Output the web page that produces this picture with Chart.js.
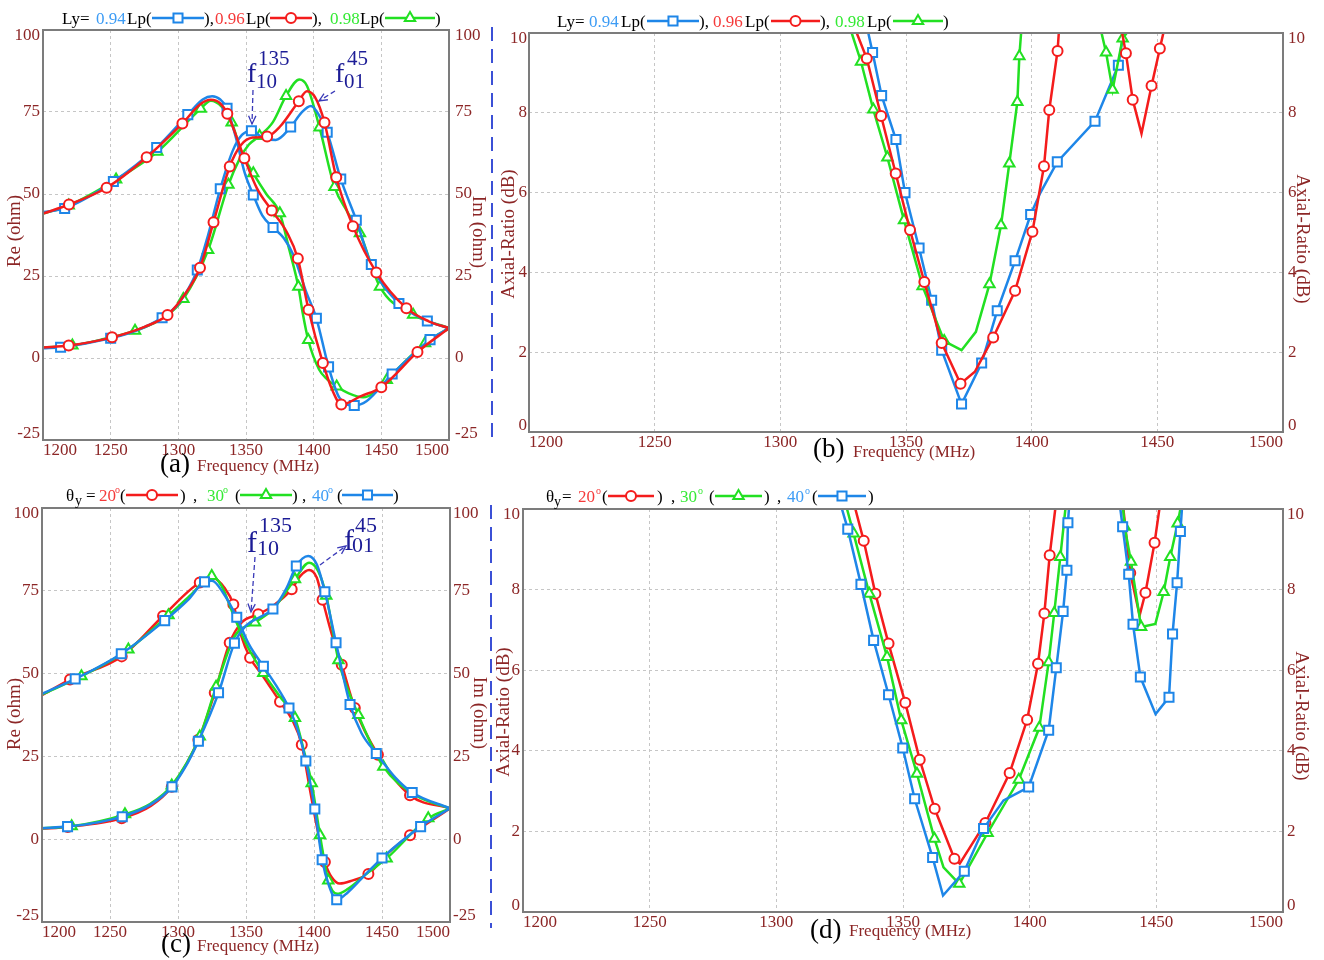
<!DOCTYPE html>
<html><head><meta charset="utf-8">
<script src="https://cdn.jsdelivr.net/npm/chart.js@4.4.0/dist/chart.umd.min.js"></script>
<style>
html,body{margin:0;padding:0;background:#fff;}
#wrap{position:relative;width:1324px;height:960px;overflow:hidden;background:#fff;}
canvas,svg{position:absolute;left:0;top:0;}
</style></head><body>
<div id="wrap">
<canvas id="cA" width="1324" height="960"></canvas>
<canvas id="cB" width="1324" height="960"></canvas>
<canvas id="cC" width="1324" height="960"></canvas>
<canvas id="cD" width="1324" height="960"></canvas>
<svg width="1324" height="960">
<line x1="492" y1="27" x2="492" y2="444" stroke="#3b50d6" stroke-width="2" stroke-dasharray="14 8"/>
<line x1="491" y1="505" x2="491" y2="928" stroke="#3b50d6" stroke-width="2" stroke-dasharray="14 8"/>
</svg>
</div>
<script>
// ---------- axis ranges / ticks ----------
const FREQ_MIN = 1200, FREQ_MAX = 1500, FREQ_STEP = 50;
const Z_MIN = -25, Z_MAX = 100, Z_STEP = 25;
const AR_MIN = 0, AR_MAX = 10, AR_STEP = 2;

// ---------- panel (a): Ly = 0.94/0.96/0.98 Lp, Re and Im (ohm) ----------
const A_RE_094 = [[1200,3.0],[1213,3.3],[1250,6.0],[1270,8.5],[1288,12.3],[1300,16.5],[1314,26.8],[1322,37.5],[1331,51.6],[1340,63.0],[1347,68.0],[1354,69.3],[1362,67.3],[1372,66.5],[1383,70.4],[1391,74.8],[1398,76.8],[1404,74.0],[1410,68.8],[1420,54.6],[1431.5,42.0],[1442.6,28.5],[1463,16.6],[1484,11.3],[1500,9.1]];
const A_RE_094_MK = [1213,1250,1288,1314,1331,1354,1383,1410,1420,1431.5,1442.6,1463,1484];
const A_IM_094 = [[1200,44.5],[1216,45.6],[1252,53.8],[1284,64.2],[1307,74.2],[1318,78.8],[1325,79.8],[1331,78.8],[1336,76.1],[1343,66.5],[1349,56.5],[1355.4,49.7],[1362,43.5],[1370,39.8],[1378,36.5],[1385,31.4],[1394.4,20.2],[1402,12.1],[1411,-2.7],[1419,-12.1],[1430,-14.5],[1439,-13.2],[1458,-4.9],[1486,5.6],[1500,9.1]];
const A_IM_094_MK = [1216,1252,1284,1307,1336,1355.4,1370,1402,1411,1430,1458,1486];

const A_RE_096 = [[1200,3.2],[1219,3.8],[1251,6.3],[1275,9.5],[1292,13.1],[1305,19.5],[1316,27.5],[1326,41.4],[1338,58.4],[1346,64.8],[1355,67.2],[1365.6,67.5],[1375,70.5],[1389,78.3],[1395,81.3],[1401,79.5],[1408,71.8],[1416.7,55.1],[1429,40.2],[1446.3,26.1],[1468.5,15.2],[1485,11.2],[1500,9.1]];
const A_RE_096_MK = [1219,1251,1292,1316,1326,1338,1365.6,1389,1408,1416.7,1429,1446.3,1468.5];
const A_IM_096 = [[1200,44.0],[1219.2,46.8],[1247,51.9],[1276.6,61.2],[1303,71.5],[1316,77.3],[1324,78.7],[1331,77.6],[1336.2,74.5],[1348.8,60.9],[1358,51.8],[1369,45.0],[1380,38.5],[1388.3,30.3],[1396.2,14.7],[1406.8,-1.5],[1414,-10.0],[1420.4,-14.2],[1435,-11.6],[1450,-8.9],[1476.7,1.8],[1500,9.1]];
const A_IM_096_MK = [1219.2,1247,1276.6,1303,1336.2,1348.8,1369,1388.3,1396.2,1406.8,1420.4,1450,1476.7];

const A_RE_098 = [[1200,3.2],[1221.7,3.8],[1245,5.8],[1268,8.3],[1290,12.5],[1303.7,18.0],[1322,32.9],[1337,52.8],[1345,60.5],[1352,65.0],[1360,67.7],[1370,72.0],[1379.6,79.9],[1389.5,84.9],[1395,83.0],[1404.3,70.3],[1415.4,52.1],[1425,44.5],[1434.2,38.0],[1449,21.7],[1473.5,13.2],[1500,9.1]];
const A_RE_098_MK = [1221.7,1268,1303.7,1322,1337,1360,1379.6,1404.3,1415.4,1434.2,1449,1473.5];
const A_IM_098 = [[1200,44.0],[1219,46.5],[1254,54.4],[1284.5,62.9],[1316.5,76.0],[1324,78.4],[1332,76.6],[1339.4,71.8],[1347,62.5],[1355.4,56.3],[1365,50.0],[1375,44.1],[1382,33.0],[1388.7,21.7],[1392,13.5],[1396,5.5],[1404,-3.5],[1410,-6.5],[1417,-8.7],[1426,-10.8],[1436.5,-12.0],[1445,-10.5],[1454,-6.7],[1482.3,4.5],[1500,9.1]];
const A_IM_098_MK = [1219,1254,1284.5,1316.5,1339.4,1355.4,1375,1388.7,1396,1417,1454,1482.3];

// ---------- panel (b): axial ratio (dB) ----------
const B_094 = [[1335,10],[1336.7,9.51],[1340.3,8.43],[1346,7.33],[1349.6,6.0],[1355.2,4.61],[1360.2,3.30],[1364.2,2.05],[1372.1,0.70],[1380.1,1.73],[1386.3,3.04],[1393.4,4.29],[1399.6,5.45],[1403.5,6.0],[1410.2,6.77],[1425.2,7.79],[1434.5,9.19],[1436.5,10]];
const B_094_MK = [1336.7,1340.3,1346,1349.6,1355.2,1360.2,1364.2,1372.1,1380.1,1386.3,1393.4,1399.6,1410.2,1425.2,1434.5];
const B_096 = [[1330.4,10],[1334.4,9.36],[1340.1,7.92],[1345.9,6.48],[1351.6,5.06],[1357.3,3.76],[1364.2,2.23],[1371.7,1.21],[1377.4,1.51],[1384.7,2.37],[1393.4,3.54],[1400.3,5.02],[1404.9,6.66],[1407,8.07],[1410.3,9.55],[1410.8,10],[1420,null],[1436,10],[1437.5,9.49],[1440.2,8.33],[1443.7,7.48],[1447.7,8.68],[1451,9.61],[1452.4,10]];
const B_096_MK = [1334.4,1340.1,1345.9,1351.6,1357.3,1364.2,1371.7,1384.7,1393.4,1400.3,1404.9,1407,1410.3,1437.5,1440.2,1447.7,1451];
const B_098 = [[1328.4,10],[1332.1,9.28],[1337,8.08],[1342.6,6.88],[1349.2,5.31],[1356.6,3.65],[1365.2,2.28],[1372.1,2.05],[1377.8,2.51],[1383.2,3.70],[1387.8,5.18],[1391.1,6.73],[1394.3,8.27],[1395.1,9.42],[1395.8,10],[1410,null],[1427.8,10],[1429.6,9.51],[1432.2,8.58],[1436.2,9.86],[1437.8,10]];
const B_098_MK = [1332.1,1337,1342.6,1349.2,1356.6,1365.2,1383.2,1387.8,1391.1,1394.3,1395.1,1429.6,1432.2,1436.2];

// ---------- panel (c): theta_y = 20/30/40 deg, Re and Im (ohm) ----------
const C_RE_20 = [[1200,3.2],[1219,3.7],[1258.6,6.3],[1280,10.0],[1295.4,15.8],[1315,30.0],[1327,44.2],[1338,59.3],[1347,65.5],[1359,67.9],[1370,70.5],[1383.6,75.5],[1390,79.5],[1396.4,81.3],[1402,79.0],[1406.3,72.3],[1413,62.0],[1420.4,52.7],[1430,39.6],[1447,25.5],[1470.6,13.3],[1500,9.3]];
const C_RE_20_MK = [1219,1258.6,1295.4,1315,1327,1338,1359,1383.6,1406.3,1420.4,1430,1447,1470.6];
const C_IM_20 = [[1200,43.5],[1220.6,48.2],[1258.6,55.2],[1289,67.4],[1316,77.5],[1326,78.8],[1334,76.0],[1340.7,70.9],[1346,62.0],[1353,54.8],[1362,49.5],[1375,41.5],[1384,36.0],[1391,28.5],[1397,15.0],[1403,2.0],[1408,-6.9],[1413,-11.5],[1419,-13.4],[1428,-12.5],[1440,-10.5],[1455,-4.0],[1470.6,1.2],[1500,9.3]];
const C_IM_20_MK = [1220.6,1258.6,1289,1316,1340.7,1353,1375,1391,1408,1440,1470.6];

const C_RE_30 = [[1200,3.3],[1221.8,3.9],[1261,7.5],[1280,10.8],[1295.4,16.2],[1316,31.0],[1328,46.0],[1342,61.5],[1356.6,65.4],[1370,69.5],[1386,78.5],[1396.4,83.5],[1403,81.0],[1409,73.5],[1418,54.0],[1432.6,37.5],[1451,21.9],[1475,13.2],[1500,9.3]];
const C_RE_30_MK = [1221.8,1261,1295.4,1316,1328,1356.6,1386,1409,1418,1432.6,1451];
const C_IM_30 = [[1200,43.7],[1229,49.2],[1263.5,57.3],[1293,67.6],[1310,74.0],[1324.8,79.5],[1332,76.5],[1342,66.4],[1352,57.5],[1362.7,50.2],[1375,43.0],[1386,36.6],[1393,26.0],[1398.3,16.9],[1404.4,1.2],[1410.5,-12.5],[1417,-16.5],[1425,-15.0],[1440,-10.0],[1453.4,-5.8],[1484,6.3],[1500,9.3]];
const C_IM_30_MK = [1229,1263.5,1293,1324.8,1362.7,1386,1398.3,1404.4,1410.5,1453.4,1484];

const C_RE_40 = [[1200,3.3],[1218.8,3.8],[1240,5.0],[1259,6.8],[1280,10.5],[1295.6,15.8],[1305,21.5],[1315,29.6],[1329.8,44.2],[1341.5,59.2],[1350,64.5],[1360,67.0],[1369.8,69.5],[1380,76.0],[1387,82.5],[1395.7,85.5],[1402,83.0],[1408,74.7],[1416.2,59.3],[1426.5,40.7],[1435,32.0],[1445.8,25.9],[1460,18.5],[1472.2,14.1],[1500,9.3]];
const C_RE_40_MK = [1218.8,1259,1295.6,1315,1329.8,1341.5,1369.8,1387,1408,1416.2,1426.5,1445.8,1472.2];
const C_IM_40 = [[1200,43.9],[1224.4,48.4],[1258.3,56.0],[1290.2,66.0],[1308,72.5],[1319.5,77.7],[1325,78.0],[1333,74.5],[1343.2,67.0],[1352,59.0],[1362.8,52.2],[1372,46.5],[1381.6,39.6],[1388,33.0],[1394,23.6],[1400.6,9.1],[1406,-6.2],[1411,-14.0],[1416.7,-18.3],[1425,-16.0],[1437,-11.0],[1450,-5.7],[1478.4,3.8],[1500,9.3]];
const C_IM_40_MK = [1224.4,1258.3,1290.2,1319.5,1343.2,1362.8,1381.6,1394,1400.6,1406,1416.7,1450,1478.4];

// ---------- panel (d): axial ratio (dB) ----------
const D_20 = [[1331.2,10],[1334.5,9.21],[1339.1,7.90],[1344.3,6.66],[1350.9,5.19],[1356.6,3.78],[1362.5,2.56],[1370.3,1.32],[1372.4,1.2],[1382.5,2.21],[1392.1,3.45],[1399,4.77],[1403.3,6.16],[1405.8,7.41],[1407.9,8.85],[1410.1,10],[1425,null],[1437,10],[1439.7,8.41],[1443.4,7.36],[1445.7,7.92],[1449.3,9.16],[1451.2,10]];
const D_20_MK = [1334.5,1339.1,1344.3,1350.9,1356.6,1362.5,1370.3,1382.5,1392.1,1399,1403.3,1405.8,1407.9,1439.7,1445.7,1449.3];
const D_30 = [[1327.9,10],[1330.5,9.39],[1336.7,7.90],[1343.7,6.33],[1349.3,4.76],[1355.5,3.43],[1362.4,1.82],[1366,1.11],[1372.2,0.70],[1383.4,1.96],[1395.7,3.28],[1403.8,4.57],[1407.5,6.2],[1409.7,7.42],[1412.1,8.81],[1414.1,10],[1425,null],[1436.9,10],[1437.5,9.56],[1440,8.69],[1444,7.07],[1449.6,7.15],[1452.9,7.94],[1455.5,8.81],[1458.4,9.64],[1459.5,10]];
const D_30_MK = [1330.5,1336.7,1343.7,1349.3,1355.5,1362.4,1372.2,1383.4,1395.7,1403.8,1407.5,1409.7,1412.1,1437.5,1440,1444,1452.9,1455.5,1458.4];
const D_40 = [[1325.9,10],[1328.2,9.50],[1333.4,8.13],[1338.4,6.74],[1344.3,5.39],[1349.9,4.07],[1354.6,2.81],[1361.7,1.35],[1365.8,0.41],[1374.2,1.01],[1381.8,2.07],[1389.7,2.77],[1399.6,3.10],[1407.5,4.51],[1410.5,6.06],[1413.2,7.46],[1414.7,8.48],[1415.1,9.66],[1415.5,10],[1425,null],[1435.8,10],[1436.7,9.56],[1439.1,8.38],[1440.8,7.14],[1443.7,5.83],[1449.7,4.91],[1455,5.33],[1456.4,6.90],[1458.2,8.17],[1459.5,9.44],[1460.1,10]];
const D_40_MK = [1328.2,1333.4,1338.4,1344.3,1349.9,1354.6,1361.7,1374.2,1381.8,1399.6,1407.5,1410.5,1413.2,1414.7,1415.1,1436.7,1439.1,1440.8,1443.7,1455,1456.4,1458.2,1459.5];

// ---------- styles ----------
const SERIF = '"Liberation Serif","Times New Roman","DejaVu Serif",serif';
const AX = '#8c2626';
const BLUE = '#1e86e8', RED = '#f41c1c', GREEN = '#22e022';
const LB_BLUE = '#3d9cf5', LB_RED = '#f53a3a', LB_GREEN = '#35ea35';
const NAVY = '#1c1c96', ARROW = '#3a3ab8';
const RAD = {rect: 6.4, circle: 5, triangle: 6};

function series(data, marks, color, style, smooth){
  return {
    data: data.map(p => ({x: p[0], y: p[1]})),
    borderColor: color, borderWidth: 2.5, backgroundColor: '#fff',
    pointStyle: style,
    pointRadius: c => (c.raw && marks.indexOf(c.raw.x) >= 0) ? RAD[style] : 0,
    pointHoverRadius: 0, pointHitRadius: 0,
    pointBackgroundColor: '#fff', pointBorderColor: color, pointBorderWidth: 2,
    cubicInterpolationMode: smooth ? 'monotone' : 'default', tension: 0,
    spanGaps: false, fill: false, yAxisID: 'y'
  };
}

function buildScales(ymin, ymax, ystep){
  const grid = {color: '#c6c6c6', lineWidth: 1, drawTicks: false};
  return {
    x: {type: 'linear', min: FREQ_MIN, max: FREQ_MAX,
        ticks: {stepSize: FREQ_STEP, align: 'inner', autoSkip: false, maxRotation: 0, minRotation: 0,
                color: AX, font: {family: SERIF, size: 17}, padding: 0, callback: v => String(v)},
        grid: grid, border: {display: false, dash: [3, 3]},
        afterFit: s => { s.height = 25; }},
    y: {type: 'linear', position: 'left', min: ymin, max: ymax,
        ticks: {stepSize: ystep, display: false},
        grid: grid, border: {display: false, dash: [3, 3]},
        afterFit: s => { s.width = 5; }},
    y2: {type: 'linear', position: 'right', min: ymin, max: ymax,
        ticks: {stepSize: ystep, display: false},
        grid: {display: false, drawTicks: false}, border: {display: false},
        afterFit: s => { s.width = 5; }}
  };
}

// ---------- drawing helpers ----------
function drawMark(ctx, style, x, y, color){
  ctx.save();
  ctx.beginPath(); ctx.lineWidth = 2; ctx.strokeStyle = color; ctx.fillStyle = '#fff';
  if (style === 'rect') { const h = RAD.rect * Math.SQRT1_2; ctx.rect(x - h, y - h, 2*h, 2*h); }
  else if (style === 'circle') { ctx.arc(x, y, RAD.circle, 0, Math.PI*2); }
  else { const r = RAD.triangle; ctx.moveTo(x, y - r); ctx.lineTo(x + r*0.866, y + r*0.5); ctx.lineTo(x - r*0.866, y + r*0.5); ctx.closePath(); }
  ctx.fill(); ctx.stroke(); ctx.restore();
}
function legendSym(ctx, x, y, w, style, color){
  ctx.save(); ctx.strokeStyle = color; ctx.lineWidth = 2.5;
  ctx.beginPath(); ctx.moveTo(x, y); ctx.lineTo(x + w, y); ctx.stroke(); ctx.restore();
  drawMark(ctx, style, x + w/2, y, color);
}
function rich(ctx, items){
  ctx.save(); ctx.textBaseline = 'alphabetic'; ctx.textAlign = 'left';
  items.forEach(it => {
    if (it.sym) { legendSym(ctx, it.x, it.y, it.w, it.sym, it.c); return; }
    ctx.font = (it.s || 17) + 'px ' + SERIF; ctx.fillStyle = it.c || '#000';
    ctx.fillText(it.t, it.x, it.y);
  });
  ctx.restore();
}
function rotText(ctx, text, x, y, rot, size, color){
  ctx.save(); ctx.translate(x, y); ctx.rotate(rot);
  ctx.font = size + 'px ' + SERIF; ctx.fillStyle = color;
  ctx.textAlign = 'center'; ctx.textBaseline = 'middle'; ctx.fillText(text, 0, 0); ctx.restore();
}
function arrow(ctx, x1, y1, x2, y2){
  ctx.save(); ctx.strokeStyle = ARROW; ctx.lineWidth = 1.3; ctx.setLineDash([5, 3]);
  ctx.beginPath(); ctx.moveTo(x1, y1); ctx.lineTo(x2, y2); ctx.stroke();
  ctx.setLineDash([]);
  const a = Math.atan2(y2 - y1, x2 - x1), L = 9, sp = 0.42;
  ctx.beginPath();
  ctx.moveTo(x2 - L*Math.cos(a - sp), y2 - L*Math.sin(a - sp));
  ctx.lineTo(x2, y2);
  ctx.lineTo(x2 - L*Math.cos(a + sp), y2 - L*Math.sin(a + sp));
  ctx.stroke(); ctx.restore();
}

function decor(d){
  return {
    id: 'decor',
    afterDraw(chart){
      const ctx = chart.ctx, ca = chart.chartArea, ys = chart.scales.y;
      // frame
      ctx.save(); ctx.strokeStyle = '#7c7c7c'; ctx.lineWidth = 2;
      ctx.strokeRect(ca.left, ca.top, ca.right - ca.left, ca.bottom - ca.top); ctx.restore();
      // y tick labels on both sides
      ctx.save(); ctx.font = '17px ' + SERIF; ctx.fillStyle = AX; ctx.textBaseline = 'middle';
      ys.ticks.forEach(t => {
        let py = ys.getPixelForValue(t.value);
        py = Math.max(ca.top + 6, Math.min(ca.bottom - 6, py));
        ctx.textAlign = 'right'; ctx.fillText(String(t.value), ca.left - d.lpad, py);
        ctx.textAlign = 'left'; ctx.fillText(String(t.value), ca.right + d.rpad, py);
      });
      ctx.restore();
      // axis titles
      rotText(ctx, d.ltitle[0], d.ltitle[1], d.ltitle[2], -Math.PI/2, 19, AX);
      rotText(ctx, d.rtitle[0], d.rtitle[1], d.rtitle[2], Math.PI/2, 19, AX);
      // x caption
      rich(ctx, d.caption);
      // legend
      rich(ctx, d.legend);
      // annotations
      if (d.notes) rich(ctx, d.notes);
      if (d.arrows) d.arrows.forEach(a => arrow(ctx, a[0], a[1], a[2], a[3]));
    }
  };
}

function makeChart(id, area, datasets, ymin, ymax, ystep, d){
  new Chart(document.getElementById(id), {
    type: 'line',
    data: {datasets: datasets},
    options: {
      responsive: false, animation: false, events: [],
      layout: {padding: {left: area[0] - 5, top: area[1], right: 1324 - area[2] - 5, bottom: 960 - area[3] - 25}},
      scales: buildScales(ymin, ymax, ystep),
      plugins: {legend: {display: false}, tooltip: {enabled: false}, title: {display: false}}
    },
    plugins: [decor(d)]
  });
}

// ---------- panel (a) ----------
makeChart('cA', [43, 30, 449, 440], [
  series(A_RE_096, A_RE_096_MK, RED, 'circle', true),
  series(A_IM_096, A_IM_096_MK, RED, 'circle', true),
  series(A_RE_094, A_RE_094_MK, BLUE, 'rect', true),
  series(A_IM_094, A_IM_094_MK, BLUE, 'rect', true),
  series(A_RE_098, A_RE_098_MK, GREEN, 'triangle', true),
  series(A_IM_098, A_IM_098_MK, GREEN, 'triangle', true)
], Z_MIN, Z_MAX, Z_STEP, {
  lpad: 3, rpad: 6,
  ltitle: ['Re (ohm)', 15, 231], rtitle: ['Im (ohm)', 478, 232],
  caption: [{x: 160, y: 472, t: '(a)', s: 27, c: '#000'}, {x: 197, y: 471, t: 'Frequency (MHz)', s: 17, c: AX}],
  legend: [
    {x: 62, y: 24, t: 'Ly='}, {x: 96, y: 24, t: '0.94', c: LB_BLUE}, {x: 127, y: 24, t: 'Lp('},
    {sym: 'rect', x: 152, y: 18, w: 52, c: BLUE}, {x: 204, y: 24, t: '),'},
    {x: 215, y: 24, t: '0.96', c: LB_RED}, {x: 246, y: 24, t: 'Lp('},
    {sym: 'circle', x: 270, y: 18, w: 42, c: RED}, {x: 312, y: 24, t: '),'},
    {x: 330, y: 24, t: '0.98', c: LB_GREEN}, {x: 360, y: 24, t: 'Lp('},
    {sym: 'triangle', x: 385, y: 18, w: 50, c: GREEN}, {x: 435, y: 24, t: ')'}
  ],
  notes: [
    {x: 247, y: 82, t: 'f', s: 28, c: NAVY}, {x: 258, y: 65, t: '135', s: 21, c: NAVY}, {x: 256, y: 88, t: '10', s: 21, c: NAVY},
    {x: 335, y: 82, t: 'f', s: 28, c: NAVY}, {x: 347, y: 65, t: '45', s: 21, c: NAVY}, {x: 344, y: 88, t: '01', s: 21, c: NAVY}
  ],
  arrows: [[253, 90, 252, 124], [335, 91, 319, 101]]
});

// ---------- panel (b) ----------
makeChart('cB', [529, 33, 1283, 432], [
  series(B_096, B_096_MK, RED, 'circle', false),
  series(B_098, B_098_MK, GREEN, 'triangle', false),
  series(B_094, B_094_MK, BLUE, 'rect', false)
], AR_MIN, AR_MAX, AR_STEP, {
  lpad: 2, rpad: 5,
  ltitle: ['Axial-Ratio (dB)', 509, 234], rtitle: ['Axial-Ratio (dB)', 1302, 239],
  caption: [{x: 813, y: 457, t: '(b)', s: 27, c: '#000'}, {x: 853, y: 457, t: 'Frequency (MHz)', s: 17, c: AX}],
  legend: [
    {x: 557, y: 27, t: 'Ly='}, {x: 589, y: 27, t: '0.94', c: LB_BLUE}, {x: 621, y: 27, t: 'Lp('},
    {sym: 'rect', x: 647, y: 21, w: 52, c: BLUE}, {x: 699, y: 27, t: '),'},
    {x: 713, y: 27, t: '0.96', c: LB_RED}, {x: 745, y: 27, t: 'Lp('},
    {sym: 'circle', x: 771, y: 21, w: 49, c: RED}, {x: 820, y: 27, t: '),'},
    {x: 835, y: 27, t: '0.98', c: LB_GREEN}, {x: 867, y: 27, t: 'Lp('},
    {sym: 'triangle', x: 893, y: 21, w: 50, c: GREEN}, {x: 943, y: 27, t: ')'}
  ]
});

// ---------- panel (c) ----------
makeChart('cC', [42, 508, 450, 922], [
  series(C_RE_40, C_RE_40_MK, BLUE, 'rect', true),
  series(C_IM_40, C_IM_40_MK, BLUE, 'rect', true),
  series(C_RE_30, C_RE_30_MK, GREEN, 'triangle', true),
  series(C_IM_30, C_IM_30_MK, GREEN, 'triangle', true),
  series(C_RE_20, C_RE_20_MK, RED, 'circle', true),
  series(C_IM_20, C_IM_20_MK, RED, 'circle', true)
], Z_MIN, Z_MAX, Z_STEP, {
  lpad: 3, rpad: 3,
  ltitle: ['Re (ohm)', 15, 714], rtitle: ['Im (ohm)', 479, 713],
  caption: [{x: 161, y: 952, t: '(c)', s: 27, c: '#000'}, {x: 197, y: 951, t: 'Frequency (MHz)', s: 17, c: AX}],
  legend: [
    {x: 66, y: 501, t: 'θ'}, {x: 75, y: 505, t: 'y', s: 14}, {x: 86, y: 501, t: '='},
    {x: 99, y: 501, t: '20', c: LB_RED}, {x: 115, y: 493, t: 'o', s: 10, c: LB_RED}, {x: 120, y: 501, t: '('},
    {sym: 'circle', x: 126, y: 495, w: 52, c: RED}, {x: 180, y: 501, t: ')'}, {x: 193, y: 501, t: ','},
    {x: 207, y: 501, t: '30', c: LB_GREEN}, {x: 223, y: 493, t: 'o', s: 10, c: LB_GREEN}, {x: 235, y: 501, t: '('},
    {sym: 'triangle', x: 240, y: 495, w: 52, c: GREEN}, {x: 292, y: 501, t: ')'}, {x: 302, y: 501, t: ','},
    {x: 312, y: 501, t: '40', c: LB_BLUE}, {x: 328, y: 493, t: 'o', s: 10, c: LB_BLUE}, {x: 337, y: 501, t: '('},
    {sym: 'rect', x: 342, y: 495, w: 51, c: BLUE}, {x: 393, y: 501, t: ')'}
  ],
  notes: [
    {x: 247, y: 552, t: 'f', s: 30, c: NAVY}, {x: 259, y: 532, t: '135', s: 22, c: NAVY}, {x: 257, y: 555, t: '10', s: 22, c: NAVY},
    {x: 344, y: 550, t: 'f', s: 30, c: NAVY}, {x: 355, y: 532, t: '45', s: 22, c: NAVY}, {x: 352, y: 552, t: '01', s: 22, c: NAVY}
  ],
  arrows: [[255, 557, 251, 612], [320, 565, 346, 546]]
});

// ---------- panel (d) ----------
makeChart('cD', [523, 509, 1283, 912], [
  series(D_40, D_40_MK, BLUE, 'rect', false),
  series(D_30, D_30_MK, GREEN, 'triangle', false),
  series(D_20, D_20_MK, RED, 'circle', false)
], AR_MIN, AR_MAX, AR_STEP, {
  lpad: 3, rpad: 4,
  ltitle: ['Axial-Ratio (dB)', 504, 712], rtitle: ['Axial-Ratio (dB)', 1301, 716],
  caption: [{x: 810, y: 938, t: '(d)', s: 27, c: '#000'}, {x: 849, y: 936, t: 'Frequency (MHz)', s: 17, c: AX}],
  legend: [
    {x: 546, y: 502, t: 'θ'}, {x: 554, y: 506, t: 'y', s: 14}, {x: 562, y: 502, t: '='},
    {x: 578, y: 502, t: '20', c: LB_RED}, {x: 596, y: 494, t: 'o', s: 10, c: LB_RED}, {x: 602, y: 502, t: '('},
    {sym: 'circle', x: 608, y: 496, w: 46, c: RED}, {x: 657, y: 502, t: ')'}, {x: 671, y: 502, t: ','},
    {x: 680, y: 502, t: '30', c: LB_GREEN}, {x: 698, y: 494, t: 'o', s: 10, c: LB_GREEN}, {x: 709, y: 502, t: '('},
    {sym: 'triangle', x: 715, y: 496, w: 47, c: GREEN}, {x: 764, y: 502, t: ')'}, {x: 777, y: 502, t: ','},
    {x: 787, y: 502, t: '40', c: LB_BLUE}, {x: 805, y: 494, t: 'o', s: 10, c: LB_BLUE}, {x: 812, y: 502, t: '('},
    {sym: 'rect', x: 818, y: 496, w: 48, c: BLUE}, {x: 868, y: 502, t: ')'}
  ]
});
</script>
</body></html>
